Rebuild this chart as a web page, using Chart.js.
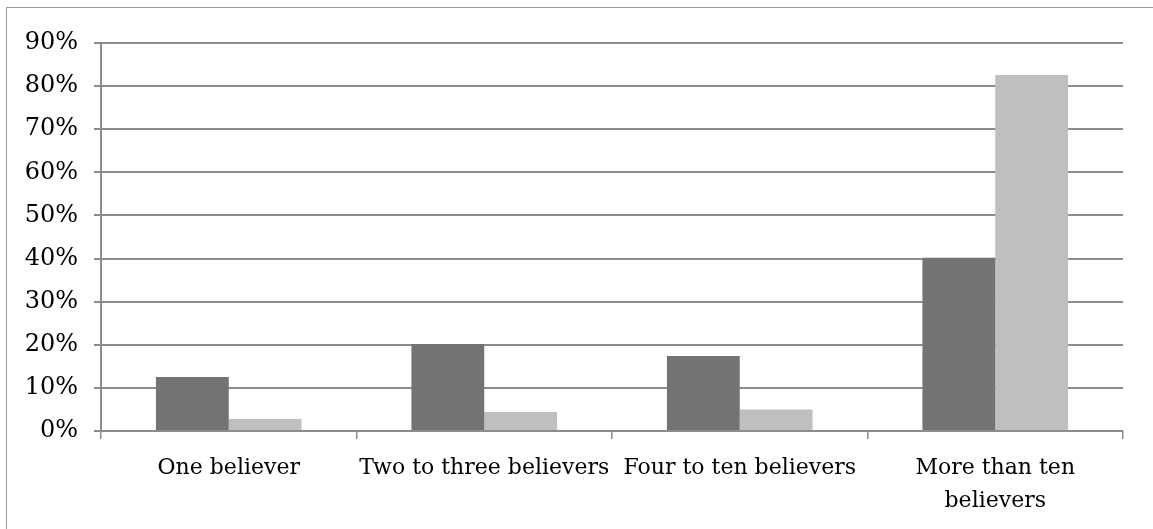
<!DOCTYPE html>
<html>
<head>
<meta charset="utf-8">
<script src="https://cdn.jsdelivr.net/npm/chart.js@4"></script>
<style>
  html, body { margin: 0; padding: 0; background: #fff; overflow: hidden; }
  #frame { position: absolute; left: 6px; top: 7px; width: 1200px; height: 600px;
           border-left: 1px solid #999; border-top: 1px solid #999; }
  #wrap { position: absolute; left: 0; top: 0; width: 1153px; height: 529px; }
</style>
</head>
<body>
<div id="frame"></div>
<div id="wrap"><canvas id="myChart"></canvas></div>
<script>
// categories and values (percent)
var categories   = ["One believer", "Two to three believers", "Four to ten believers", ["More than ten", "believers"]];
var seriesDark   = [12.5, 20.2, 17.4, 40.2];
var seriesLight  = [2.8, 4.4, 5.0, 82.6];
var yTicks       = [0, 10, 20, 30, 40, 50, 60, 70, 80, 90];

var ctx = document.getElementById("myChart");
var gridColor = "#8c8c8c";
var font = { family: "'DejaVu Serif', serif", size: 22, lineHeight: 1.5 };

var chart = new Chart(ctx, {
    type: 'bar',
    data: {
        labels: categories,
        datasets: [{
            label: 'Series 1',
            data: seriesDark,
            backgroundColor: '#737373',
            categoryPercentage: 0.57,
            barPercentage: 1.0
        }, {
            label: 'Series 2',
            data: seriesLight,
            backgroundColor: '#bfbfbf',
            categoryPercentage: 0.57,
            barPercentage: 1.0
        }]
    },
    options: {
        responsive: true,
        maintainAspectRatio: false,
        animation: false,
        layout: { padding: { top: 43, right: 30, left: 0, bottom: 0 } },
        plugins: { legend: { display: false }, tooltip: { enabled: false } },
        scales: {
            x: {
                grid: { offset: true, drawOnChartArea: false, color: gridColor, lineWidth: 1.5, tickLength: 8 },
                border: { color: gridColor, width: 2 },
                ticks: { color: '#000', font: font, padding: 13, maxRotation: 0, autoSkip: false },
                afterFit: function(s){ s.height = 98; }
            },
            y: {
                min: 0,
                max: 90,
                afterBuildTicks: function(s){ s.ticks = yTicks.map(function(v){ return { value: v }; }); },
                grid: { color: gridColor, lineWidth: 2, tickLength: 7 },
                border: { color: gridColor, width: 2 },
                ticks: { color: '#000', font: { family: font.family, size: 24 }, padding: 16,
                         callback: function(v){ return v + '%'; } },
                afterFit: function(s){ s.width = 101; }
            }
        }
    }
});
</script>
</body>
</html>
